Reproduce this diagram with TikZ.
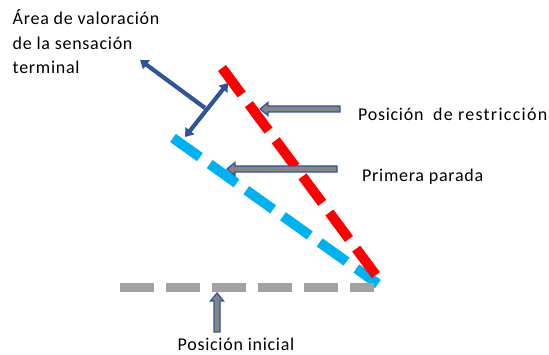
\documentclass[tikz,border=0pt]{standalone}
\usepackage{fontspec}
\setmainfont[LetterSpace=4]{Carlito}
\usetikzlibrary{arrows.meta}
\definecolor{redline}{HTML}{FF0000}
\definecolor{blueline}{HTML}{00B0F0}
\definecolor{grayline}{HTML}{A5A1A1}
\definecolor{dblue}{HTML}{2F5597}
\definecolor{arrfill}{HTML}{858585}
\tikzset{
  dashline/.style={line width=10pt, dash pattern=on 33pt off 12pt, line cap=butt},
  darrow/.style={draw=dblue, line width=4.2pt, -{Triangle[length=8pt,width=11pt]}},
  ddarrow/.style={draw=dblue, line width=4.2pt, {Triangle[length=8pt,width=11pt]}-{Triangle[length=8pt,width=11pt]}},
  lbl/.style={inner sep=0pt, font=\fontsize{18}{24.5}\selectfont},
  hollow/.pic={
    \filldraw[draw=dblue, fill=arrfill, line width=1.3pt, line join=miter]
      (0,0) -- (8,6.5) -- (8,3) -- (#1,3) -- (#1,-3) -- (8,-3) -- (8,-6.5) -- cycle;
  }
}
\begin{document}
\begin{tikzpicture}[x=1pt,y=1pt]
\useasboundingbox (0,0) rectangle (549,355);
% lines
\coordinate (B1) at (173,217);
\coordinate (B2) at (378,71);
\coordinate (R1) at (222,287);
\coordinate (R2) at (378,77);
\coordinate (G1) at (120,67);
\coordinate (G2) at (374,67);
\draw[dashline, blueline] (B1) -- (B2);
\draw[dashline, redline] (R1) -- (R2);
\draw[dashline, grayline, line width=9pt, dash pattern=on 34pt off 12pt] (G1) -- (G2);
% dark blue arrows
\coordinate (J) at (205,247);
\coordinate (T1) at (140,295);
\coordinate (DA) at (228,272);
\coordinate (DB) at (185,218);
\draw[darrow] (J) -- (T1);
\draw[ddarrow] (DB) -- (DA);
% hollow arrows
\coordinate (HR) at (260,246);
\coordinate (HP) at (227,186);
\coordinate (HI) at (217,62);
\pic at (HR) {hollow=80};
\pic at (HP) {hollow=110};
\pic[rotate=-90] at (HI) {hollow=39};
% labels
\node[lbl, anchor=base west, align=left] (area) at (12.5,281) {Área de valoración\\de la sensación\\terminal};
\node[lbl, anchor=base west] (restr) at (358,234) {Posición\ \ {\addfontfeature{LetterSpace=7}de restricción}};
\node[lbl, anchor=base west] (prim) at (362,173) {Primera parada};
\node[lbl, anchor=base] (ini) at (236,4.5) {Posición inicial};
\end{tikzpicture}
\end{document}
